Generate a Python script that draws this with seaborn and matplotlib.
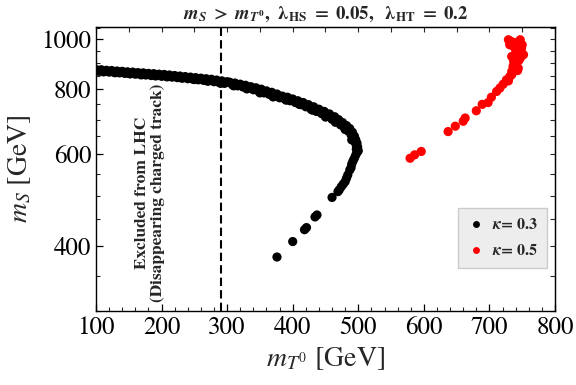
import numpy as np
import pandas as pd
import matplotlib
matplotlib.use('Agg')
import matplotlib.pyplot as plt
import seaborn as sns
from matplotlib.ticker import FixedLocator, NullFormatter

# kappa = 0.3 scan points (m_T0, m_S) in GeV
k03_mT = [100, 104, 108, 112, 116, 120, 124, 128, 132, 136, 140, 144, 148, 152, 156,
          160, 164, 168, 172, 176, 180, 184, 188, 192, 196, 200, 204, 208, 212, 216,
          220, 224, 228, 232, 236, 240, 244, 248, 252, 256, 260, 264, 268, 272, 276,
          280, 284, 288, 292, 296, 300,
          304, 308, 312, 316, 320, 324, 328, 332, 336, 340, 344, 348, 352, 356, 360,
          364, 368, 372, 376, 380,
          384, 388, 392, 396, 400, 404, 408, 412, 416, 420, 424, 428, 432, 436, 440,
          444, 448, 452, 456, 460, 464, 467, 470, 473, 476, 479, 482, 485, 487, 489,
          491, 493, 494, 495, 496, 497, 498, 497, 498, 496, 494, 492, 490, 489, 487,
          484, 482, 480, 477, 474, 471, 469, 460, 437, 434, 421, 418, 400, 376,
          110, 130, 150, 170, 190, 210, 230, 250, 270, 290, 310, 330, 350, 370,
          390, 410, 430, 450, 465, 480, 490, 499, 500]
k03_mS = [874, 867, 873, 865, 871, 864, 870, 862, 868, 861, 867, 859, 865, 857, 864,
          856, 862, 854, 861, 853, 859, 851, 858, 850, 856, 848, 855, 846, 853, 845,
          851, 843, 849, 841, 847, 839, 845, 837, 843, 835, 841, 833, 839, 831, 837,
          828, 834, 825, 831, 822, 828,
          826, 817, 823, 813, 819, 809, 815, 804, 810, 799, 806, 794, 801, 788, 795,
          783, 790, 777, 784, 771,
          777, 767, 773, 761, 767, 755, 761, 748, 755, 741, 748, 733, 741, 726, 733,
          719, 726, 711, 718, 701, 709, 693, 700, 684, 691, 675, 682, 665, 673, 655,
          662, 644, 651, 634, 641, 624, 631, 614, 605, 598, 590, 583, 575, 566, 560,
          548, 540, 532, 526, 520, 513, 509, 496, 459, 455, 434, 430, 408, 381,
          866, 862, 859, 854, 850, 847, 842, 836, 830, 822, 813, 802, 788, 774,
          763, 749, 730, 708, 692, 670, 640, 620, 610]

# kappa = 0.5 scan points
k05_mT = [579, 586, 596, 637, 648, 660, 663, 680, 689, 698, 703, 711, 716, 721, 726,
          729, 731, 734, 734, 736, 737, 741, 744, 747, 749, 749, 750, 752, 747, 742,
          739, 737, 731, 729, 734, 740, 745, 748, 733, 738, 743]
k05_mS = [590, 599, 608, 664, 680, 695, 705, 728, 749, 755, 773, 793, 805, 819, 835,
          831, 847, 854, 866, 886, 906, 886, 879, 919, 940, 961, 975, 933, 997, 982,
          961, 968, 975, 997, 926, 940, 910, 955, 990, 985, 870]

kappa_labels = [r'$\boldsymbol{\kappa}$= 0.3', r'$\boldsymbol{\kappa}$= 0.5']
lhc_bound = 291

df = pd.DataFrame({
    'mT0': k03_mT + k05_mT,
    'mS': k03_mS + k05_mS,
    'kappa': [kappa_labels[0]] * len(k03_mT) + [kappa_labels[1]] * len(k05_mT),
})

sns.set_style('ticks')
plt.rcParams['font.family'] = ['STIXGeneral', 'DejaVu Serif']
plt.rcParams['mathtext.fontset'] = 'stix'

fig = plt.figure(figsize=(5.76, 3.85), dpi=100)
ax = fig.add_axes([0.1667, 0.1922, 0.7968, 0.7377])

sns.scatterplot(data=df, x='mT0', y='mS', hue='kappa', hue_order=kappa_labels,
                palette=['black', 'red'], s=44, linewidth=0, ax=ax)

ax.set_yscale('log')
ax.set_xlim(100, 800)
ax.set_ylim(300, 1055)

ax.set_xticks(np.arange(100, 801, 100))
ax.set_xticks(np.arange(100, 801, 20), minor=True)
ax.yaxis.set_major_locator(FixedLocator([400, 600, 800, 1000]))
ax.set_yticklabels(['400', '600', '800', '1000'])
ax.yaxis.set_minor_locator(FixedLocator(np.arange(300, 1051, 50)))
ax.yaxis.set_minor_formatter(NullFormatter())
ax.tick_params(which='major', direction='in', length=5, width=0.9, labelsize=18,
               colors='black')
ax.tick_params(which='minor', direction='in', length=3, width=0.8)
for s in ax.spines.values():
    s.set_color('black')
    s.set_linewidth(1.0)

top = ax.secondary_xaxis('top')
top.set_xticks(np.arange(100, 801, 50))
top.tick_params(direction='in', length=3.5, width=0.8, labeltop=False)
right = ax.secondary_yaxis('right')
right.yaxis.set_major_locator(FixedLocator(np.arange(300, 1051, 50)))
right.yaxis.set_minor_locator(FixedLocator([]))
right.tick_params(direction='in', length=3.5, width=0.8, labelright=False)

ax.axvline(lhc_bound, color='black', linestyle=(0, (4, 2)), linewidth=1.5)
ax.text(182, 506, 'Excluded from LHC\n(Disappearing charged track)', rotation=90,
        ha='center', va='center', fontsize=12.5, fontweight='bold', linespacing=1.1)

ax.set_xlabel(r'$m_{T^0}$ [GeV]', fontsize=20, labelpad=4)
ax.set_ylabel(r'$m_S$ [GeV]', fontsize=20, labelpad=6)
ax.set_title(r'$\mathbfit{m}_{\mathbfit{S}}\ \mathbf{>}\ \mathbfit{m}_{\mathbfit{T}^{\mathbf{0}}}\mathbf{,}\ \ '
             r'\boldsymbol{\lambda}_{\mathbf{HS}}\ \mathbf{=\ 0.05,}\ \ '
             r'\boldsymbol{\lambda}_{\mathbf{HT}}\ \mathbf{=\ 0.2}$',
             fontsize=13.5, pad=6)

handles, labels = ax.get_legend_handles_labels()
leg = ax.legend(handles, labels, loc='lower right', bbox_to_anchor=(0.99, 0.14),
                prop={'weight': 'bold', 'size': 11.5}, frameon=True,
                fancybox=False, facecolor='#ededed', edgecolor='#cccccc',
                framealpha=1, handletextpad=0.5, borderpad=0.6, labelspacing=0.7,
                markerscale=0.75, handlelength=1.0, borderaxespad=0.2)

fig.savefig('out.png', dpi=100)
